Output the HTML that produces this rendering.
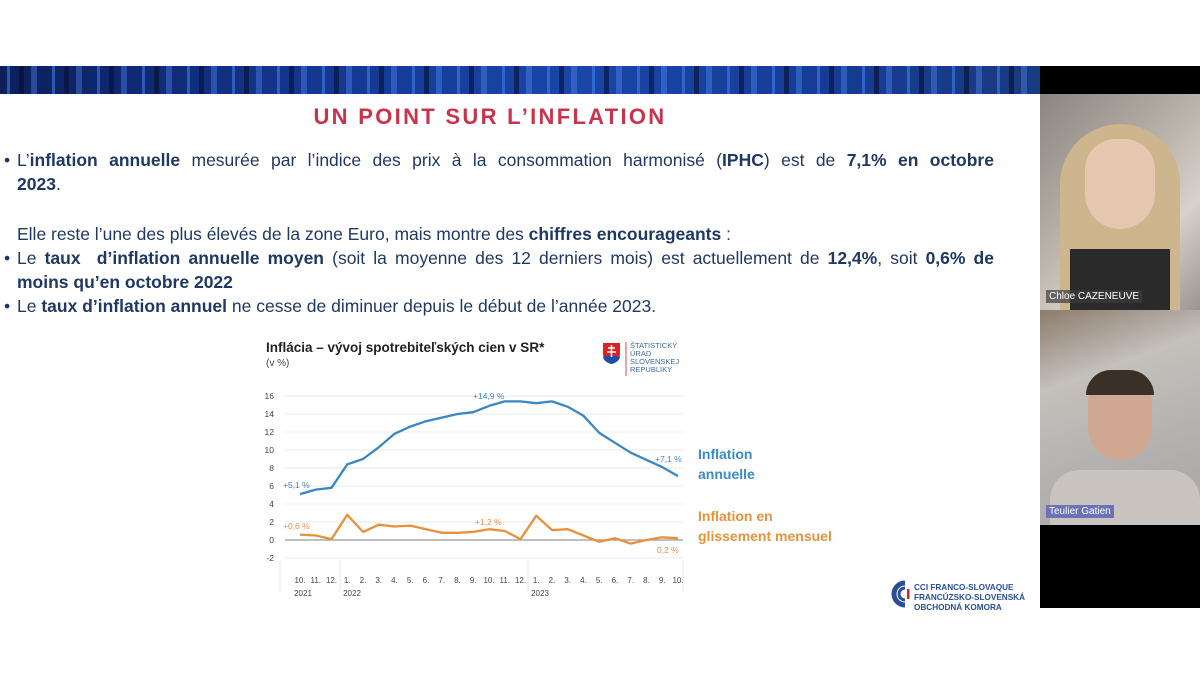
<!DOCTYPE html>
<html><head><meta charset="utf-8"><style>
body{margin:0;width:1200px;height:675px;background:#fff;position:relative;overflow:hidden;font-family:"Liberation Sans",sans-serif}
.ab{position:absolute}
.banner{left:0;top:66px;width:1040px;height:28px;background:
repeating-linear-gradient(90deg,rgba(0,0,0,0) 0 7px,rgba(70,130,240,.55) 7px 10px,rgba(0,0,0,0) 10px 19px,rgba(5,15,50,.6) 19px 24px,rgba(0,0,0,0) 24px 31px,rgba(90,150,255,.35) 31px 37px,rgba(0,0,0,0) 37px 45px),
linear-gradient(90deg,#0b1f5c,#14378f 30%,#1a46a8 55%,#163c94 80%,#1a3a80)}
.title{left:0;width:980px;top:104px;text-align:center;color:#c8344b;font-weight:bold;font-size:22px;letter-spacing:2.3px}
.t{color:#1f3864;font-size:17.5px;line-height:24px}
.t b{font-weight:bold}
.j{text-align:justify;text-align-last:justify}
</style></head><body>
<div class="ab banner"></div>
<div class="ab" style="left:1040px;top:66px;width:160px;height:28px;background:#000"></div>
<div class="ab title">UN POINT SUR L’INFLATION</div>

<div class="ab t" style="left:4px;top:148px">•</div>
<div class="ab t j" style="left:17px;top:148px;width:977px">L’<b>inflation annuelle</b> mesurée par l’indice des prix à la consommation harmonisé (<b>IPHC</b>) est de <b>7,1% en octobre</b></div>
<div class="ab t" style="left:17px;top:172px"><b>2023</b>.</div>
<div class="ab t" style="left:17px;top:222px">Elle reste l’une des plus élevés de la zone Euro, mais montre des <b>chiffres encourageants</b> :</div>
<div class="ab t" style="left:4px;top:246px">•</div>
<div class="ab t j" style="left:17px;top:246px;width:977px">Le <b>taux&nbsp; d’inflation annuelle moyen</b> (soit la moyenne des 12 derniers mois) est actuellement de <b>12,4%</b>, soit <b>0,6% de</b></div>
<div class="ab t" style="left:17px;top:270px"><b>moins qu’en octobre 2022</b></div>
<div class="ab t" style="left:4px;top:294px">•</div>
<div class="ab t" style="left:17px;top:294px">Le <b>taux d’inflation annuel</b> ne cesse de diminuer depuis le début de l’année 2023.</div>

<svg class="ab" style="left:0;top:0" width="1040" height="675" font-family="Liberation Sans, sans-serif">
<text x="266" y="352" font-size="13.5" font-weight="bold" fill="#222">Inflácia – vývoj spotrebiteľských cien v SR*</text>
<text x="266" y="366" font-size="10" fill="#444">(v %)</text>
<path d="M603 343h17v11q0 7-8.5 10q-8.5-3-8.5-10z" fill="#d22"/>
<path d="M603 357q8 -3 17 0q-1 5-8.5 7q-7.5-2-8.5-7z" fill="#1d4fa8"/>
<path d="M611.5 345v12M608 348h7M607 352h9" stroke="#fff" stroke-width="1.5"/>
<line x1="626" y1="342" x2="626" y2="376" stroke="#d44" stroke-width="1"/>
<g font-size="7.5" fill="#3a6aa8"><text x="630" y="348">ŠTATISTICKÝ</text><text x="630" y="356">ÚRAD</text><text x="630" y="364">SLOVENSKEJ</text><text x="630" y="372">REPUBLIKY</text></g>
<g stroke="#e8e8e8" stroke-width="1">
<line x1="285" x2="683" y1="396" y2="396"/><line x1="285" x2="683" y1="414" y2="414"/><line x1="285" x2="683" y1="432" y2="432"/><line x1="285" x2="683" y1="450" y2="450"/><line x1="285" x2="683" y1="468" y2="468"/><line x1="285" x2="683" y1="486" y2="486"/><line x1="285" x2="683" y1="504" y2="504"/><line x1="285" x2="683" y1="522" y2="522"/><line x1="285" x2="683" y1="558" y2="558"/>
<line x1="280" y1="560" x2="280" y2="592"/><line x1="340" y1="560" x2="340" y2="592"/><line x1="528" y1="560" x2="528" y2="592"/><line x1="683" y1="560" x2="683" y2="592"/>
</g>
<line x1="285" x2="683" y1="540" y2="540" stroke="#999" stroke-width="1.2"/>
<g font-size="8.5" fill="#444" text-anchor="end">
<text x="274" y="399">16</text><text x="274" y="417">14</text><text x="274" y="435">12</text><text x="274" y="453">10</text><text x="274" y="471">8</text><text x="274" y="489">6</text><text x="274" y="507">4</text><text x="274" y="525">2</text><text x="274" y="543">0</text><text x="274" y="561">-2</text>
</g>
<g font-size="8" fill="#444" text-anchor="middle">
<text x="300" y="583">10.</text><text x="315.75" y="583">11.</text><text x="331.5" y="583">12.</text><text x="347.25" y="583">1.</text><text x="363" y="583">2.</text><text x="378.75" y="583">3.</text><text x="394.5" y="583">4.</text><text x="410.25" y="583">5.</text><text x="426" y="583">6.</text><text x="441.75" y="583">7.</text><text x="457.5" y="583">8.</text><text x="473.25" y="583">9.</text><text x="489" y="583">10.</text><text x="504.75" y="583">11.</text><text x="520.5" y="583">12.</text><text x="536.25" y="583">1.</text><text x="552" y="583">2.</text><text x="567.75" y="583">3.</text><text x="583.5" y="583">4.</text><text x="599.25" y="583">5.</text><text x="615" y="583">6.</text><text x="630.75" y="583">7.</text><text x="646.5" y="583">8.</text><text x="662.25" y="583">9.</text><text x="678" y="583">10.</text>
<text x="303" y="596">2021</text><text x="352" y="596">2022</text><text x="540" y="596">2023</text>
</g>
<polyline fill="none" stroke="#3a87c4" stroke-width="2.3" stroke-linejoin="round" points="300,494.1 315.75,489.6 331.5,487.8 347.25,464.4 363,459 378.75,447.3 394.5,433.8 410.25,426.6 426,421.2 441.75,417.6 457.5,414 473.25,412.2 489,405.9 504.75,401.4 520.5,401.4 536.25,403.2 552,401.4 567.75,406.8 583.5,415.8 599.25,432.9 615,442.8 630.75,452.7 646.5,459.9 662.25,467.1 678,476.1"/>
<polyline fill="none" stroke="#e8913d" stroke-width="2.3" stroke-linejoin="round" points="300,534.6 315.75,535.5 331.5,539.1 347.25,514.8 363,531.9 378.75,524.7 394.5,526.5 410.25,525.6 426,529.2 441.75,532.8 457.5,532.8 473.25,531.9 489,529.2 504.75,531 520.5,539.1 536.25,515.7 552,530.1 567.75,529.2 583.5,535.5 599.25,541.8 615,538.2 630.75,543.6 646.5,540 662.25,537.3 678,538.2"/>
<g font-size="8.5"><text x="283" y="488" fill="#3a87c4">+5,1 %</text><text x="473" y="399" fill="#3a87c4">+14,9 %</text><text x="655" y="462" fill="#3a87c4">+7,1 %</text>
<text x="283" y="529" fill="#e0904a">+0,6 %</text><text x="475" y="525" fill="#e0904a">+1,2 %</text><text x="657" y="553" fill="#e0904a">0,2 %</text></g>
<g font-size="14" font-weight="bold"><text x="698" y="459" fill="#3a8cc4">Inflation</text><text x="698" y="479" fill="#3a8cc4">annuelle</text>
<text x="698" y="521" fill="#e8913d">Inflation en</text><text x="698" y="541" fill="#e8913d">glissement mensuel</text></g>
<path d="M905 583a11 11 0 1 0 0 22" fill="none" stroke="#2a4e9a" stroke-width="5"/>
<path d="M905 588a6 6 0 1 0 0 12" fill="none" stroke="#2a4e9a" stroke-width="3"/>
<rect x="907" y="589" width="2.5" height="10" fill="#d22"/>
<g font-size="8.2" font-weight="bold" fill="#2a4e9a"><text x="914" y="590">CCI FRANCO-SLOVAQUE</text><text x="914" y="600">FRANCÚZSKO-SLOVENSKÁ</text><text x="914" y="610">OBCHODNÁ KOMORA</text></g>
</svg>

<div class="ab" style="left:1040px;top:94px;width:160px;height:216px;background:linear-gradient(135deg,#8a8580 0%,#b5aea6 40%,#d7d2cc 70%,#9b958f 100%);overflow:hidden">
 <div class="ab" style="left:20px;top:30px;width:120px;height:200px;border-radius:60px 60px 0 0;background:#cdb58e"></div>
 <div class="ab" style="left:45px;top:45px;width:70px;height:90px;border-radius:35px 35px 40px 40px;background:#e6c7b0"></div>
 <div class="ab" style="left:30px;top:155px;width:100px;height:70px;background:#2a2a2a"></div>
 <div class="ab" style="left:6px;top:196px;padding:1px 3px;background:rgba(60,60,60,.7);color:#fff;font-size:10px">Chloe CAZENEUVE</div>
</div>
<div class="ab" style="left:1040px;top:310px;width:160px;height:215px;background:linear-gradient(160deg,#8c7b6c 0%,#c4c0bc 30%,#b5b3b1 60%,#a8a6a4 100%);overflow:hidden">
 <div class="ab" style="left:48px;top:65px;width:64px;height:85px;border-radius:32px 32px 36px 36px;background:#d0a892"></div>
 <div class="ab" style="left:46px;top:60px;width:68px;height:25px;border-radius:30px 30px 0 0;background:#3a3028"></div>
 <div class="ab" style="left:10px;top:160px;width:150px;height:60px;border-radius:30px 30px 0 0;background:#c9c4c0"></div>
 <div class="ab" style="left:6px;top:195px;padding:1px 3px;background:#6b72b8;color:#fff;font-size:10px">Teulier Gatien</div>
</div>
<div class="ab" style="left:1040px;top:525px;width:160px;height:83px;background:#000"></div>
</body></html>
